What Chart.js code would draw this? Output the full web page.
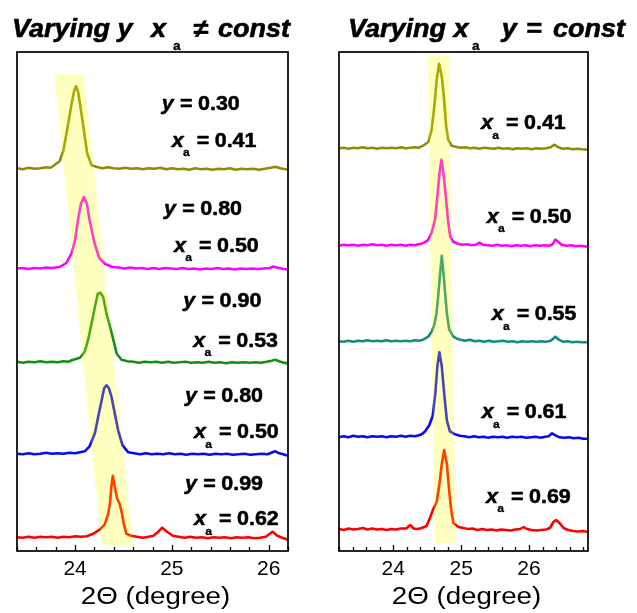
<!DOCTYPE html>
<html><head><meta charset="utf-8">
<script src="https://cdn.jsdelivr.net/npm/chart.js@4.4.1/dist/chart.umd.min.js"></script>
<style>
html,body{margin:0;padding:0;background:#fff;width:637px;height:613px;overflow:hidden}
.wrap{position:absolute;top:0;height:613px}
canvas{display:block}
</style></head><body>
<div class="wrap" style="left:0;width:318px"><canvas id="cL" width="318" height="613"></canvas></div>
<div class="wrap" style="left:318px;width:319px"><canvas id="cR" width="319" height="613"></canvas></div>
<script>
// ---------- DATA (2θ in degrees, intensity in arbitrary units above each trace baseline) ----------
const L_olive = [[23.40,1],[23.46,0],[23.52,1.5],[23.58,0.5],[23.64,1],[23.70,2],[23.74,1.5],[23.77,3],[23.84,8],[23.88,19],[23.93,46],[23.965,66],[23.99,78],[24.01,83],[24.03,78],[24.05,66],[24.085,43],[24.125,16],[24.17,4],[24.22,2.5],[24.28,1],[24.34,2],[24.40,1],[24.46,0.5],[24.52,1.5],[24.58,0.5],[24.64,1],[24.70,0],[24.76,1],[24.82,0.5],[24.88,1.5],[24.94,0],[25.00,1],[25.06,0],[25.12,0.5],[25.18,-0.5],[25.24,1],[25.30,0],[25.36,0.5],[25.42,-0.5],[25.48,0.5],[25.54,0],[25.60,1],[25.66,-0.5],[25.72,0.5],[25.78,0],[25.84,0.5],[25.90,-0.5],[25.96,0.5],[26.02,1.5],[26.07,2.5],[26.12,1],[26.20,-0.5]];
const L_pink = [[23.40,0.5],[23.46,1],[23.52,0],[23.58,1],[23.64,0.5],[23.70,1.5],[23.76,1],[23.84,2],[23.91,6],[23.965,16],[24.00,29],[24.03,49],[24.06,65],[24.09,72],[24.12,66],[24.15,49],[24.20,26],[24.25,11],[24.31,5],[24.39,2],[24.45,1.5],[24.51,0.5],[24.57,1.5],[24.63,0.5],[24.69,1],[24.75,0],[24.81,1],[24.87,0],[24.93,1],[24.99,0.5],[25.05,0],[25.11,1],[25.17,0],[25.23,0.5],[25.29,-0.5],[25.35,0.5],[25.41,0],[25.47,1],[25.53,0],[25.59,0.5],[25.65,-0.5],[25.71,0.5],[25.77,0],[25.83,0.5],[25.89,0],[25.95,0.5],[26.01,1],[26.05,2.5],[26.10,1],[26.16,0],[26.20,-0.5]];
const L_green = [[23.40,1],[23.46,0],[23.52,1],[23.58,0.5],[23.64,1.5],[23.70,0.5],[23.76,1],[23.82,0.5],[23.88,1.5],[23.93,1],[23.98,3],[24.05,5],[24.10,11],[24.135,23],[24.17,39],[24.205,56],[24.235,69],[24.26,70],[24.29,66],[24.325,49],[24.36,36],[24.395,23],[24.43,9],[24.48,3],[24.54,1.5],[24.60,1],[24.66,0],[24.72,1],[24.78,0.5],[24.84,1],[24.90,0],[24.96,1],[25.02,0],[25.08,0.5],[25.14,1],[25.20,0],[25.26,0.5],[25.32,0],[25.38,1],[25.44,0],[25.50,0.5],[25.56,-0.5],[25.62,0.5],[25.68,0],[25.74,0.5],[25.80,0],[25.86,0.5],[25.92,0],[25.98,1],[26.03,2],[26.07,3],[26.12,1],[26.20,-1]];
const L_blue = [[23.40,0.5],[23.46,0],[23.52,1],[23.58,0],[23.64,0.5],[23.70,1.5],[23.76,0.5],[23.82,1],[23.88,0.5],[23.94,1.5],[24.00,1],[24.05,2],[24.10,3],[24.15,8],[24.205,21],[24.24,38],[24.275,54],[24.30,66],[24.325,69],[24.35,66],[24.375,58],[24.41,41],[24.445,24],[24.49,9],[24.55,2],[24.61,1],[24.67,0],[24.73,1],[24.79,0],[24.85,0.5],[24.91,0],[24.97,1],[25.03,0],[25.09,0.5],[25.15,-0.5],[25.21,0.5],[25.27,0],[25.33,0.5],[25.39,-0.5],[25.45,0.5],[25.51,0],[25.57,0.5],[25.63,-0.5],[25.69,0],[25.75,0.5],[25.81,-0.5],[25.87,0],[25.93,0.5],[25.99,0],[26.04,2],[26.07,3],[26.11,1],[26.15,0],[26.20,-1.5]];
const L_red = [[23.40,0.5],[23.46,0],[23.52,1],[23.58,0],[23.64,1],[23.70,0.5],[23.76,1],[23.82,0],[23.88,1],[23.94,0.5],[24.00,1.5],[24.06,1],[24.12,1.5],[24.19,4],[24.255,8],[24.305,13],[24.34,23],[24.36,34],[24.375,51],[24.39,62],[24.41,51],[24.435,39],[24.46,34],[24.485,24],[24.505,13],[24.53,4],[24.58,2],[24.64,1],[24.70,0],[24.76,1],[24.81,2],[24.86,6],[24.90,10],[24.95,6],[25.01,2],[25.07,1],[25.13,0],[25.19,1],[25.25,0],[25.31,0.5],[25.37,-0.5],[25.43,0.5],[25.49,0],[25.55,0.5],[25.61,-0.5],[25.67,0.5],[25.73,0],[25.79,0.5],[25.85,-0.5],[25.91,0],[25.97,1],[26.04,6],[26.09,2],[26.14,0],[26.20,-2]];

const R_olive = [[23.20,0.5],[23.27,1],[23.34,0],[23.41,1],[23.48,0.5],[23.55,1.5],[23.62,0.5],[23.69,1],[23.76,0],[23.83,1],[23.90,0.5],[23.97,1],[24.04,0.5],[24.11,1.5],[24.18,0.5],[24.25,1],[24.32,1.5],[24.38,1],[24.44,3],[24.52,7],[24.565,19],[24.605,42],[24.64,69],[24.675,85],[24.715,72],[24.75,49],[24.78,22],[24.81,9],[24.86,3],[24.92,2],[24.99,1],[25.06,1.5],[25.13,0.5],[25.20,1],[25.27,0],[25.34,1],[25.41,0.5],[25.48,0],[25.55,1],[25.62,0],[25.69,0.5],[25.76,-0.5],[25.83,0.5],[25.90,0],[25.97,0.5],[26.04,-0.5],[26.11,0.5],[26.18,0],[26.25,0.5],[26.32,1.5],[26.37,4],[26.43,1.5],[26.50,0],[26.57,0.5],[26.64,-0.5],[26.71,0],[26.78,-0.5],[26.87,-1]];
const R_pink = [[23.20,0],[23.27,1],[23.34,0.5],[23.41,1],[23.48,0],[23.55,1],[23.62,0.5],[23.69,1.5],[23.76,0.5],[23.83,1],[23.90,0],[23.97,1],[24.04,0.5],[24.11,1],[24.18,0],[24.25,1],[24.32,0.5],[24.37,1.5],[24.42,2],[24.48,4],[24.515,6],[24.565,13],[24.615,26],[24.65,49],[24.68,72],[24.71,86],[24.74,72],[24.775,49],[24.805,26],[24.84,9],[24.885,4],[24.95,2],[25.02,1],[25.09,1.5],[25.16,0.5],[25.22,1],[25.27,3],[25.32,1],[25.39,0.5],[25.46,0],[25.53,1],[25.60,0],[25.67,0.5],[25.74,-0.5],[25.81,0.5],[25.88,0],[25.95,0.5],[26.02,-0.5],[26.09,0.5],[26.16,0],[26.23,0.5],[26.30,0],[26.35,1.5],[26.39,6],[26.43,4],[26.48,1],[26.55,0],[26.62,0.5],[26.69,-0.5],[26.76,0],[26.87,-1]];
const R_teal = [[23.20,0.5],[23.27,0],[23.34,1],[23.41,0],[23.48,1],[23.55,0.5],[23.62,1.5],[23.69,0.5],[23.76,1],[23.83,0.5],[23.90,1.5],[23.97,0.5],[24.04,1],[24.11,0.5],[24.18,1],[24.25,0.5],[24.32,1.5],[24.38,1],[24.44,2],[24.515,5],[24.565,10],[24.605,17],[24.64,30],[24.665,48],[24.69,68],[24.715,86],[24.74,68],[24.765,48],[24.79,28],[24.825,12],[24.885,5],[24.94,3],[24.99,2],[25.06,1],[25.13,2],[25.20,0.5],[25.27,1],[25.34,0],[25.41,1],[25.48,0],[25.55,0.5],[25.62,1],[25.69,0],[25.76,0.5],[25.83,-0.5],[25.90,0.5],[25.97,0],[26.04,0.5],[26.11,0],[26.18,0.5],[26.25,0],[26.32,1],[26.39,5],[26.44,2],[26.50,0],[26.57,0.5],[26.64,-0.5],[26.71,0],[26.78,-0.5],[26.87,-0.5]];
const R_blue = [[23.20,0],[23.27,1],[23.34,0],[23.41,1.5],[23.48,0.5],[23.55,1],[23.62,0],[23.69,1],[23.76,0.5],[23.83,1],[23.90,0],[23.97,1],[24.04,0.5],[24.11,1.5],[24.18,0.5],[24.25,1.5],[24.32,1],[24.38,2],[24.43,3.5],[24.47,6],[24.53,12],[24.58,21],[24.62,44],[24.65,71],[24.68,85],[24.715,71],[24.75,44],[24.79,17],[24.835,6],[24.91,3],[24.98,1.5],[25.05,1],[25.12,0],[25.19,1],[25.26,0],[25.33,0.5],[25.40,-0.5],[25.47,0.5],[25.54,0],[25.61,0.5],[25.68,-0.5],[25.75,0.5],[25.82,0],[25.89,0.5],[25.96,-0.5],[26.03,0],[26.10,0.5],[26.17,-0.5],[26.24,0.5],[26.29,1],[26.34,4],[26.39,2],[26.45,0],[26.52,-0.5],[26.59,0],[26.66,-1],[26.73,-0.5],[26.80,-1.5],[26.87,-1.5]];
const R_red = [[23.20,1],[23.27,0],[23.34,1.5],[23.41,0.5],[23.48,1],[23.55,2],[23.62,0.5],[23.69,1.5],[23.76,0.5],[23.83,1],[23.90,0],[23.97,1],[24.04,0.5],[24.11,1.5],[24.19,1.5],[24.25,5],[24.30,1.5],[24.36,1],[24.42,2],[24.49,4],[24.54,12],[24.59,21],[24.64,28],[24.68,46],[24.715,66],[24.75,80],[24.79,66],[24.82,42],[24.85,22],[24.885,7],[24.96,3],[25.03,2],[25.10,1],[25.17,1.5],[25.24,0],[25.31,1],[25.38,0],[25.45,0.5],[25.52,-0.5],[25.59,0.5],[25.66,0],[25.73,-0.5],[25.80,0.5],[25.87,1],[25.92,3],[25.97,1],[26.04,0],[26.11,-0.5],[26.18,0],[26.25,0.5],[26.31,2],[26.36,8],[26.40,10],[26.45,7],[26.51,2],[26.58,0],[26.65,-1],[26.72,-1.5],[26.80,-1],[26.87,-2]];

// vertical stacking offsets of each trace (same units)
const leftOffsets = [381.7, 282, 188.3, 96.7, 13.3];
const rightOffsets = [402.3, 305.3, 209.3, 113.7, 21];

// annotation values
const leftYValues = ['0.30', '0.80', '0.90', '0.80', '0.99'];
const leftXaValues = ['0.41', '0.50', '0.53', '0.50', '0.62'];
const rightXaValues = ['0.41', '0.50', '0.55', '0.61', '0.69'];

// x-axis ticks
const leftTicks = [23.4,23.6,23.8,24.0,24.2,24.4,24.6,24.8,25.0,25.2,25.4,25.6,25.8,26.0,26.2];
const rightTicks = [23.2,23.4,23.6,23.8,24.0,24.2,24.4,24.6,24.8,25.0,25.2,25.4,25.6,25.8,26.0,26.2,26.4,26.6,26.8];
const tickLabels = [24, 25, 26];

// highlighted band corners [2θ, intensity]
const leftBand = [[23.785,477],[24.09,477],[24.60,6],[24.273,6]];
const rightBand = [[24.508,495],[24.818,495],[24.92,8],[24.61,8]];

// ---------- STYLE / LAYOUT ----------
const FONT = '"Liberation Sans", Arial, Helvetica, sans-serif';
const leftColors = ['rgb(140,140,10)', '#ff00ff', 'rgb(20,145,20)', '#0a0aee', '#ff0000'];
const rightColors = ['rgb(140,140,10)', '#ff00ff', 'rgb(20,140,128)', '#0a0aee', '#ff0000'];
const leftYPos = [[161.7,109.5],[164,215],[183.3,307],[185,401.7],[185,490]];
const leftXaPos = [[171.7,146.7],[174,251.7],[193.3,346.7],[194,438.3],[194,525]];
const rightXaPos = [[481,129.3],[486.7,222.7],[491.7,320],[481.7,418.3],[486,502.7]];

function txt(ctx, s, x, y, size, opts) {
  opts = opts || {};
  ctx.save();
  ctx.translate(x, y);
  ctx.scale(opts.stretch || 1, 1);
  ctx.font = (opts.italic ? 'italic ' : '') + (opts.bold === false ? '' : 'bold ') + size + 'px ' + FONT;
  ctx.fillStyle = '#000';
  ctx.textBaseline = 'alphabetic';
  ctx.textAlign = opts.align || 'left';
  ctx.fillText(s, 0, 0);
  if (opts.heavy) {
    ctx.strokeStyle = '#000';
    ctx.lineWidth = opts.heavy;
    ctx.lineJoin = 'round';
    ctx.strokeText(s, 0, 0);
  }
  ctx.restore();
}

function makeDecor(cfg) {
  return {
    id: 'decor' + cfg.id,
    afterDatasetsDraw(chart) {
      const ctx = chart.ctx, xs = chart.scales.x, ys = chart.scales.y, a = chart.chartArea;
      // translucent yellow band
      ctx.save();
      ctx.beginPath();
      cfg.band.forEach((p, i) => {
        const px = xs.getPixelForValue(p[0]), py = ys.getPixelForValue(p[1]);
        i ? ctx.lineTo(px, py) : ctx.moveTo(px, py);
      });
      ctx.closePath();
      ctx.fillStyle = 'rgba(255,255,0,0.25)';
      ctx.fill();
      ctx.restore();
      // frame
      ctx.save();
      ctx.strokeStyle = '#000';
      ctx.lineWidth = 1.7;
      ctx.strokeRect(a.left, a.top, a.right - a.left, a.bottom - a.top);
      // inward ticks
      ctx.lineWidth = 1.3;
      xs.ticks.forEach(t => {
        const px = Math.round(xs.getPixelForValue(t.value)) + 0.5;
        const major = Math.abs(t.value - Math.round(t.value)) < 1e-6;
        ctx.beginPath();
        ctx.moveTo(px, a.bottom);
        ctx.lineTo(px, a.bottom - (major ? 6 : 4));
        ctx.stroke();
      });
      ctx.restore();
    },
    afterDraw(chart) {
      const ctx = chart.ctx, a = chart.chartArea, dx = cfg.dx;
      const S = 1.1, FS = 19.5, H = 0.5;
      // per-trace labels
      cfg.yVals && cfg.yVals.forEach((v, i) => {
        const [x, y] = cfg.yPos[i];
        txt(ctx, 'y', x - dx, y, FS, {italic: true, stretch: S, heavy: H});
        txt(ctx, '=', x - dx + 18.3, y, FS, {stretch: S, heavy: H});
        txt(ctx, v, x - dx + 36.3, y, FS, {stretch: S, heavy: H});
      });
      cfg.xaVals.forEach((v, i) => {
        const [x, y] = cfg.xaPos[i];
        txt(ctx, 'x', x - dx, y, FS, {italic: true, stretch: S, heavy: H});
        txt(ctx, 'a', x - dx + 11.3, y + 9.5, 11.5, {stretch: 1.05, heavy: 0.3});
        txt(ctx, '=', x - dx + 25, y, FS, {stretch: S, heavy: H});
        txt(ctx, v, x - dx + 43, y, FS, {stretch: S, heavy: H});
      });
      // panel title
      cfg.title(ctx, dx);
      // axis title
      const cx = (a.left + a.right) / 2 + cfg.axisTitleShift;
      txt(ctx, '2\u0398 (degree)', cx, 604, 23.5, {bold: false, stretch: 1.18, align: 'center'});
    }
  };
}

function makeChart(canvasId, cfg) {
  const datasets = cfg.series.map((s, i) => ({
    data: s.map(p => ({x: p[0], y: p[1] + cfg.offsets[i]})),
    borderColor: cfg.colors[i],
    borderWidth: 2.6,
    borderJoinStyle: 'round',
    pointRadius: 0,
    tension: 0,
    fill: false
  }));
  return new Chart(document.getElementById(canvasId), {
    type: 'line',
    data: {datasets},
    options: {
      responsive: false,
      animation: false,
      devicePixelRatio: 1,
      layout: {padding: {left: cfg.padL, right: cfg.padR, top: 52, bottom: 0}},
      plugins: {legend: {display: false}, tooltip: {enabled: false}, title: {display: false}},
      scales: {
        x: {
          type: 'linear', min: cfg.min, max: cfg.max,
          afterBuildTicks: sc => { sc.ticks = cfg.ticks.map(v => ({value: v})); },
          afterFit: sc => { sc.height = 62; },
          grid: {display: false, drawTicks: false},
          border: {display: false},
          ticks: {
            autoSkip: false, maxRotation: 0, minRotation: 0, padding: 6, color: '#000',
            font: {family: FONT, size: 21},
            callback: v => tickLabels.some(t => Math.abs(t - v) < 1e-6) ? String(Math.round(v)) : ''
          }
        },
        y: {display: false, min: 0, max: 499}
      }
    },
    plugins: [makeDecor(cfg)]
  });
}

makeChart('cL', {
  id: 'L', dx: 0, padL: 17, padR: 30, min: 23.4, max: 26.2,
  series: [L_olive, L_pink, L_green, L_blue, L_red],
  offsets: leftOffsets, colors: leftColors, ticks: leftTicks, band: leftBand,
  yVals: leftYValues, yPos: leftYPos, xaVals: leftXaValues, xaPos: leftXaPos,
  axisTitleShift: 3,
  title: (ctx, dx) => {
    const o = {italic: true, stretch: 1.08, heavy: 0.6};
    txt(ctx, 'Varying y', 12, 36.7, 25, o);
    txt(ctx, 'x', 151, 36.7, 25, o);
    txt(ctx, 'a', 173, 49.5, 13, {stretch: 1.05, heavy: 0.3});
    txt(ctx, '\u2260', 193, 36.7, 25, o);
    txt(ctx, 'const', 218, 36.7, 25, o);
  }
});

makeChart('cR', {
  id: 'R', dx: 318, padL: 21, padR: 49, min: 23.2, max: 26.87,
  series: [R_olive, R_pink, R_teal, R_blue, R_red],
  offsets: rightOffsets, colors: rightColors, ticks: rightTicks, band: rightBand,
  yVals: null, xaVals: rightXaValues, xaPos: rightXaPos,
  axisTitleShift: 3,
  title: (ctx, dx) => {
    const o = {italic: true, stretch: 1.08, heavy: 0.6};
    txt(ctx, 'Varying x', 348 - dx, 36.7, 25, o);
    txt(ctx, 'a', 472 - dx, 49.5, 13, {stretch: 1.05, heavy: 0.3});
    txt(ctx, 'y', 501.7 - dx, 36.7, 25, o);
    txt(ctx, '=', 526 - dx, 36.7, 25, o);
    txt(ctx, 'const', 553 - dx, 36.7, 25, o);
  }
});
</script>
</body></html>
